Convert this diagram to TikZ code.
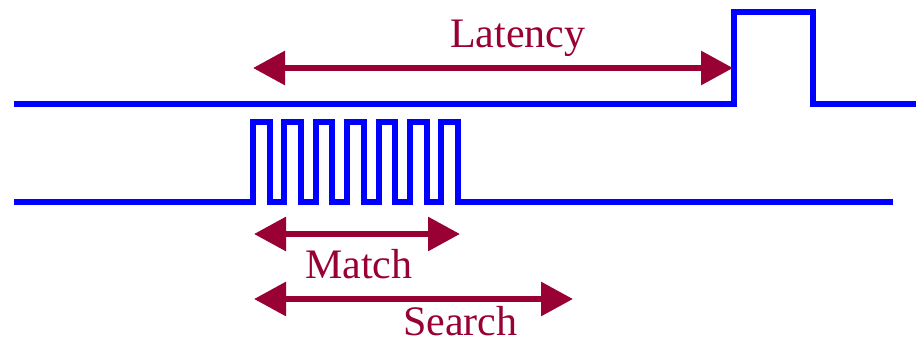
\documentclass[tikz,border=0pt]{standalone}
\usepackage{fontspec}
\setmainfont{Liberation Serif}
\usetikzlibrary{arrows.meta}
\definecolor{sigblue}{HTML}{0000FF}
\definecolor{arrred}{HTML}{990033}
\begin{document}
\begin{tikzpicture}[x=1pt,y=-1pt,
  signal/.style={draw=sigblue,line width=6pt,line join=miter},
  span/.style={draw=arrred,line width=6pt,{Triangle[length=32pt,width=33pt]}-{Triangle[length=32pt,width=33pt]}},
  lbl/.style={text=arrred,font=\fontsize{42}{48}\selectfont,inner sep=0pt,anchor=base west}]
\useasboundingbox[fill=white] (0,0) rectangle (916,345);
% top signal
\draw[signal] (14,104) -- (734,104) -- (734,12) -- (813,12) -- (813,104) -- (916,104);
% lower signal with 7 pulses
\draw[signal] (14,202)
  \foreach \k in {0,...,6} {
    -- ({253+31.4*\k},202) -- ({253+31.4*\k},122) -- ({269.5+31.4*\k},122) -- ({269.5+31.4*\k},202)
  } -- (893,202);
% arrow endpoints
\coordinate (latL) at (253,68);
\coordinate (latR) at (733,68);
\coordinate (matL) at (254,234);
\coordinate (matR) at (460,234);
\coordinate (seaL) at (254,299);
\coordinate (seaR) at (573,299);
\draw[span] (latL) -- (latR);
\draw[span] (matL) -- (matR);
\draw[span] (seaL) -- (seaR);
\node[lbl] (lat) at (450,48) {Latency};
\node[lbl] (mat) at (305,278) {Match};
\node[lbl] (sea) at (403,335) {Search};
\end{tikzpicture}
\end{document}
